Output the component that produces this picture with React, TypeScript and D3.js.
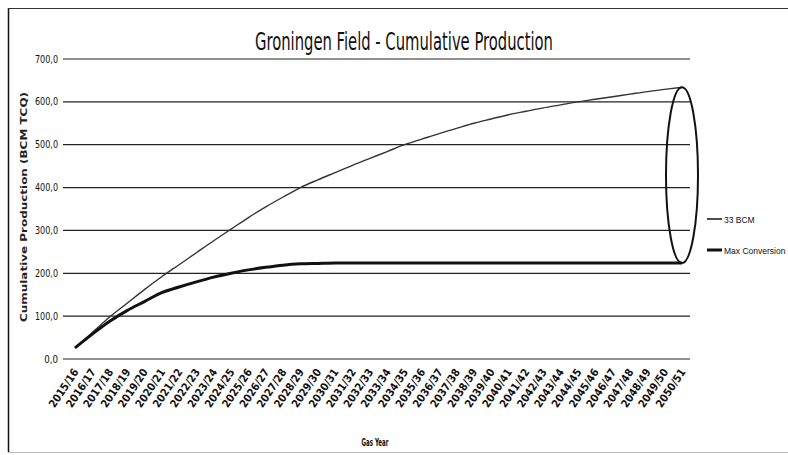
import React from "react";
import * as d3 from "d3";

const categories: string[] = [
  "2015/16", "2016/17", "2017/18", "2018/19", "2019/20", "2020/21", "2021/22", "2022/23",
  "2023/24", "2024/25", "2025/26", "2026/27", "2027/28", "2028/29", "2029/30", "2030/31",
  "2031/32", "2032/33", "2033/34", "2034/35", "2035/36", "2036/37", "2037/38", "2038/39",
  "2039/40", "2040/41", "2041/42", "2042/43", "2043/44", "2044/45", "2045/46", "2046/47",
  "2047/48", "2048/49", "2049/50", "2050/51",
];

const bcm33: number[] = [
  26, 62, 98, 130, 162, 192, 220, 248, 276, 303, 330, 355, 378, 400, 418, 435,
  452, 468, 484, 500, 513, 526, 538, 550, 560, 570, 578, 586, 593, 600, 606, 612,
  618, 624, 629, 634,
];

const maxConversion: number[] = [
  26, 58, 88, 113, 134, 155, 168, 180, 191, 200, 208, 214, 219, 222, 223, 224,
  224, 224, 224, 224, 224, 224, 224, 224, 224, 224, 224, 224, 224, 224, 224, 224,
  224, 224, 224, 224,
];

const yTicks: number[] = [0, 100, 200, 300, 400, 500, 600, 700];

const seriesNames: string[] = ["33 BCM", "Max Conversion"];

const title = "Groningen Field - Cumulative Production";
const yTitle = "Cumulative Production (BCM TCQ)";
const xTitle = "Gas Year";

const narrow = "'Liberation Sans Narrow', 'DejaVu Sans Condensed', 'Roboto Condensed', 'Liberation Sans', sans-serif";

export default function App() {
  const W = 788;
  const H = 455;
  const plotLeft = 63;
  const plotRight = 690;

  const x = d3.scalePoint<string>().domain(categories).range([75, 682]);
  const y = d3.scaleLinear().domain([0, 700]).range([359, 59]);

  const line = d3
    .line<number>()
    .x((_, i) => x(categories[i]) as number)
    .y((v) => y(v))
    .curve(d3.curveMonotoneX);

  const fmt = (v: number) => v.toFixed(1).replace(".", ",");

  const lastX = x(categories[categories.length - 1]) as number;
  const topY = y(bcm33[bcm33.length - 1]);
  const botY = y(maxConversion[maxConversion.length - 1]);

  return (
    <svg
      width={W}
      height={H}
      style={{ position: "absolute", left: 0, top: 0, background: "#fff" }}
    >
      <rect x={0} y={0} width={W} height={H} fill="#fff" />
      {/* outer border */}
      <line x1={8.5} y1={8} x2={8.5} y2={452} stroke="#111" strokeWidth={1.5} />
      <line x1={8} y1={8.5} x2={W} y2={8.5} stroke="#333" strokeWidth={1} />
      <line x1={8} y1={452.5} x2={W} y2={452.5} stroke="#bbb" strokeWidth={1} />

      {/* title */}
      <text
        x={404}
        y={50}
        textAnchor="middle"
        fontFamily={narrow}
        fontSize={24}
        textLength={298}
        lengthAdjust="spacingAndGlyphs"
        fill="#111"
      >
        {title}
      </text>

      {/* gridlines */}
      {yTicks.map((t) => {
        const label = fmt(t);
        return (
          <g key={t}>
            <line
              x1={plotLeft}
              x2={plotRight}
              y1={y(t)}
              y2={y(t)}
              stroke="#222"
              strokeWidth={1.2}
            />
            <text
              x={58}
              y={y(t) + 3.5}
              textAnchor="end"
              fontFamily={narrow}
              fontSize={10}
              textLength={label.length * 4.6}
              lengthAdjust="spacingAndGlyphs"
              fill="#111"
            >
              {label}
            </text>
          </g>
        );
      })}

      {/* y title */}
      <text
        transform={`translate(27, 207) rotate(-90)`}
        textAnchor="middle"
        fontFamily="'DejaVu Sans', sans-serif"
        fontWeight="bold"
        fontSize={9.5}
        textLength={230}
        lengthAdjust="spacingAndGlyphs"
        fill="#222"
      >
        {yTitle}
      </text>

      {/* x labels */}
      {categories.map((c) => {
        const cx = x(c) as number;
        return (
          <text
            key={c}
            transform={`translate(${cx + 4}, 372) rotate(-56)`}
            textAnchor="end"
            fontFamily={narrow}
            fontWeight="bold"
            fontSize={11}
            textLength={44}
            lengthAdjust="spacingAndGlyphs"
            fill="#111"
          >
            {c}
          </text>
        );
      })}

      {/* x title */}
      <text
        x={375}
        y={446}
        textAnchor="middle"
        fontFamily={narrow}
        fontWeight="bold"
        fontSize={10.5}
        textLength={27}
        lengthAdjust="spacingAndGlyphs"
        fill="#111"
      >
        {xTitle}
      </text>

      {/* series */}
      <path d={line(bcm33) || ""} fill="none" stroke="#333" strokeWidth={1.4} />
      <path d={line(maxConversion) || ""} fill="none" stroke="#111" strokeWidth={3} />

      {/* ellipse annotation */}
      <ellipse
        cx={lastX}
        cy={(topY + botY) / 2}
        rx={16}
        ry={(botY - topY) / 2}
        fill="none"
        stroke="#111"
        strokeWidth={2}
      />

      {/* legend */}
      {seriesNames.map((n, i) => {
        const ly = 219 + i * 31;
        return (
          <g key={n}>
            <line
              x1={707}
              x2={722}
              y1={ly}
              y2={ly}
              stroke="#111"
              strokeWidth={i === 0 ? 1.5 : 3}
            />
            <text
              x={724}
              y={ly + 3.5}
              fontFamily="'Liberation Sans', Arial, sans-serif"
              fontSize={8.5}
              fill="#111"
            >
              {n}
            </text>
          </g>
        );
      })}
    </svg>
  );
}
